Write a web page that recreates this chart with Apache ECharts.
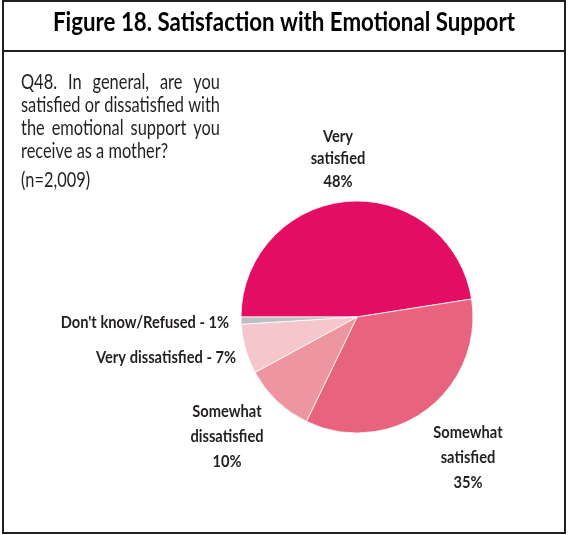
<!DOCTYPE html>
<html>
<head>
<meta charset="utf-8">
<script src="https://cdn.jsdelivr.net/npm/echarts@6/dist/echarts.min.js"></script>
<style>
html,body{margin:0;padding:0;background:#fff;}
#chart{width:568px;height:535px;}
</style>
</head>
<body>
<div id="chart"></div>
<script>
// ---- data ----
var categories = ['Very satisfied', 'Somewhat satisfied', 'Somewhat dissatisfied', 'Very dissatisfied', "Don't know/Refused"];
var values = [48, 35, 10, 7, 1];
var labelTexts = ['Very\nsatisfied\n48%', 'Somewhat\nsatisfied\n35%', 'Somewhat\ndissatisfied\n10%', 'Very dissatisfied - 7%', "Don't know/Refused - 1%"];
var sliceColors = ['#E30E63', '#E8647E', '#EE96A0', '#F5C6CB', '#BCBEC0'];
var titleText = 'Figure 18. Satisfaction with Emotional Support';
var questionLines = ['Q48. In general, are you', 'satisfied or dissatisfied with', 'the emotional support you', 'receive as a mother?', '(n=2,009)'];
var justifiedLines = [true, false, true, false, false];

var FONT = 'Lato, "Liberation Sans", sans-serif';
var INK = '#231F20';

// layout helpers (positions only)
var mctx = document.createElement('canvas').getContext('2d');
function measure(str, font) { mctx.font = font; return mctx.measureText(str).width; }

var TITLE_FONT = 'bold 26px ' + FONT;
var titleScale = 462 / measure(titleText, TITLE_FONT);
var LABEL_FONT = 'bold 17px ' + FONT;
var labelScale = 140 / measure('Very dissatisfied - 7%', LABEL_FONT);
var Q_FONT = '21px ' + FONT;
var qScale = 199 / measure('satisfied or dissatisfied with', Q_FONT);
var Q_LEFT = 21, Q_RIGHT = 220;
var qY = [82, 105, 128, 151, 180];

var labelPos = [
  {x: 338, y: 159, align: 'center', lh: 22.5},
  {x: 468, y: 458, align: 'center', lh: 25},
  {x: 227, y: 437, align: 'center', lh: 25},
  {x: 236, y: 358, align: 'right', lh: 22},
  {x: 229, y: 323, align: 'right', lh: 22}
];

var chart = echarts.init(document.getElementById('chart'), null, {renderer: 'canvas'});

function qtxt(str, x, y) {
  return {type: 'text', x: x, y: y, scaleX: qScale, style: {text: str, fill: INK, font: Q_FONT, textAlign: 'left', textVerticalAlign: 'middle'}};
}

var qGraphics = [];
questionLines.forEach(function (line, i) {
  if (!justifiedLines[i]) { qGraphics.push(qtxt(line, Q_LEFT, qY[i])); return; }
  var words = line.split(' ');
  var widths = words.map(function (w) { return measure(w, Q_FONT) * qScale; });
  var total = widths.reduce(function (a, b) { return a + b; }, 0);
  var gap = (Q_RIGHT - Q_LEFT - total) / (words.length - 1);
  var x = Q_LEFT;
  words.forEach(function (w, k) { qGraphics.push(qtxt(w, x, qY[i])); x += widths[k] + gap; });
});

var labelGraphics = labelTexts.map(function (t, i) {
  var p = labelPos[i];
  return {type: 'text', x: p.x, y: p.y, scaleX: labelScale,
    style: {text: t, fill: INK, font: LABEL_FONT, textAlign: p.align, textVerticalAlign: 'middle', lineHeight: p.lh}};
});

var option = {
  backgroundColor: '#fff',
  animation: false,
  graphic: [
    {type: 'rect', shape: {x: 3, y: 1, width: 562, height: 532}, style: {fill: 'none', stroke: '#231F20', lineWidth: 2}},
    {type: 'line', shape: {x1: 3, y1: 51, x2: 565, y2: 51}, style: {stroke: '#231F20', lineWidth: 2}},
    {type: 'text', x: 284, y: 22.7, scaleX: titleScale, style: {text: titleText, fill: '#000', font: TITLE_FONT, textAlign: 'center', textVerticalAlign: 'middle'}}
  ].concat(qGraphics).concat(labelGraphics),
  series: [{
    type: 'pie',
    center: [357, 317],
    radius: 116,
    startAngle: 180,
    clockwise: true,
    silent: true,
    itemStyle: {borderColor: '#fff', borderWidth: 0.8},
    label: {show: false},
    labelLine: {show: false},
    data: categories.map(function (c, i) {
      return {name: c, value: values[i], itemStyle: {color: sliceColors[i]}};
    })
  }]
};
chart.setOption(option);
</script>
</body>
</html>
